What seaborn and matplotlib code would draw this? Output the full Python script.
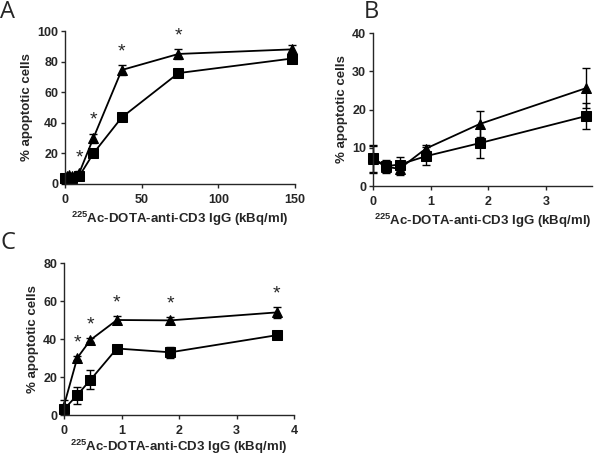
import numpy as np
import pandas as pd
import matplotlib
matplotlib.use("Agg")
import matplotlib.pyplot as plt
import seaborn as sns

# panel A: dose range up to 148 kBq/ml
dose_a = [0, 1.1, 2.3, 4.6, 9.2, 18.5, 37, 74, 148]
tri_a = [4, 5, 6, 5, 7, 30, 74.5, 85, 88]
tri_a_err = [1.5, 1.5, 1.5, 1.5, 1.5, 3, 3, 3, 3]
sq_a = [4, 3, 3, 4, 5, 20, 43.5, 72.5, 82]
sq_a_err = [1, 1, 1, 1, 1, 1.5, 1.5, 1.5, 2]
star_a = [9.2, 18.5, 37, 74]

# panel B: low dose
dose_b = [0, 0.23, 0.46, 0.92, 1.85, 3.7]
tri_b = [7, 5, 4.5, 9.8, 16.2, 25.6]
tri_b_err = [3.5, 1.5, 1.5, 1, 3.3, 5.3]
sq_b = [7.2, 5.2, 5.6, 7.8, 11.2, 18.3]
sq_b_err = [3.5, 1.5, 2, 2.3, 4, 3.4]

# panel C
dose_c = [0, 0.23, 0.46, 0.92, 1.85, 3.7]
tri_c = [5, 30, 39.5, 50, 49.8, 54]
tri_c_err = [3, 1, 1, 2, 2, 3]
sq_c = [3, 10.5, 18.5, 35, 33, 42]
sq_c_err = [2, 4.5, 5, 2, 3, 1.5]
star_c = [0.23, 0.46, 0.92, 1.85, 3.7]

sns.set_style("ticks")
plt.rcParams["font.family"] = ["Liberation Sans", "DejaVu Sans"]
plt.rcParams["font.weight"] = "bold"
plt.rcParams["mathtext.fontset"] = "custom"
plt.rcParams["mathtext.rm"] = "Liberation Sans:bold"
plt.rcParams["mathtext.default"] = "rm"

XLABEL = r"$^{225}$Ac-DOTA-anti-CD3 IgG (kBq/ml)"

fig = plt.figure(figsize=(6, 4.57), dpi=100)
W, H = 600, 457


def make_ax(left, top, right, bottom):
    return fig.add_axes([left / W, 1 - bottom / H, (right - left) / W, (bottom - top) / H])


def draw_panel(ax, dose, tri, tri_err, sq, sq_err, stars, ylim, yticks, xlim, xticks, xpad=3):
    df = pd.DataFrame({
        "dose": dose * 2,
        "val": tri + sq,
        "grp": ["tri"] * len(dose) + ["sq"] * len(dose),
    })
    sns.lineplot(data=df, x="dose", y="val", style="grp", markers={"tri": "^", "sq": "s"},
                 dashes=False, color="black", markersize=6.5, linewidth=1.3,
                 markeredgecolor="black", legend=False, ax=ax, clip_on=False)
    ax.errorbar(dose, tri, yerr=tri_err, fmt="none", ecolor="black", elinewidth=1,
                capsize=3, capthick=1, clip_on=False)
    ax.errorbar(dose, sq, yerr=sq_err, fmt="none", ecolor="black", elinewidth=1,
                capsize=3, capthick=1, clip_on=False)
    for s in stars:
        i = dose.index(s)
        ax.text(s, tri[i] + tri_err[i] + 1.2 * (ylim[1] / 40), "*", ha="center", va="bottom",
                fontsize=14, fontweight="normal")
    ax.set_xlim(*xlim)
    ax.set_ylim(*ylim)
    ax.set_xticks(xticks)
    ax.set_yticks(yticks)
    ax.tick_params(labelsize=9, width=1, length=3, pad=2)
    ax.tick_params(axis="x", pad=4)
    ax.set_ylabel("% apoptotic cells", fontsize=9.5, fontweight="bold", labelpad=3)
    ax.set_xlabel(XLABEL, fontsize=9.5, fontweight="bold", labelpad=xpad)
    for sp in ["left", "bottom"]:
        ax.spines[sp].set_linewidth(1)
    sns.despine(ax=ax)


ax_a = make_ax(65, 31, 295, 184)
draw_panel(ax_a, dose_a, tri_a, tri_a_err, sq_a, sq_a_err, star_a,
           (0, 100), [0, 20, 40, 60, 80, 100], (0, 150), [0, 50, 100, 150])

ax_b = make_ax(373, 33, 592, 186)
draw_panel(ax_b, dose_b, tri_b, tri_b_err, sq_b, sq_b_err, [],
           (0, 40), [0, 10, 20, 30, 40], (0, 3.8), [0, 1, 2, 3])

ax_c = make_ax(64, 263, 294, 415)
draw_panel(ax_c, dose_c, tri_c, tri_c_err, sq_c, sq_c_err, star_c,
           (0, 80), [0, 20, 40, 60, 80], (0, 4), [0, 1, 2, 3, 4], xpad=0.5)

fig.text(0 / W, 1 - 12 / H, "A", fontsize=17, fontweight="normal", va="center",
         family="Open Sans")
fig.text(364 / W, 1 - 12 / H, "B", fontsize=17, fontweight="normal", va="center",
         family="Open Sans")
fig.text(0 / W, 1 - 243 / H, "C", fontsize=17, fontweight="normal", va="center",
         family="Open Sans")

fig.savefig("out.png", dpi=100)
